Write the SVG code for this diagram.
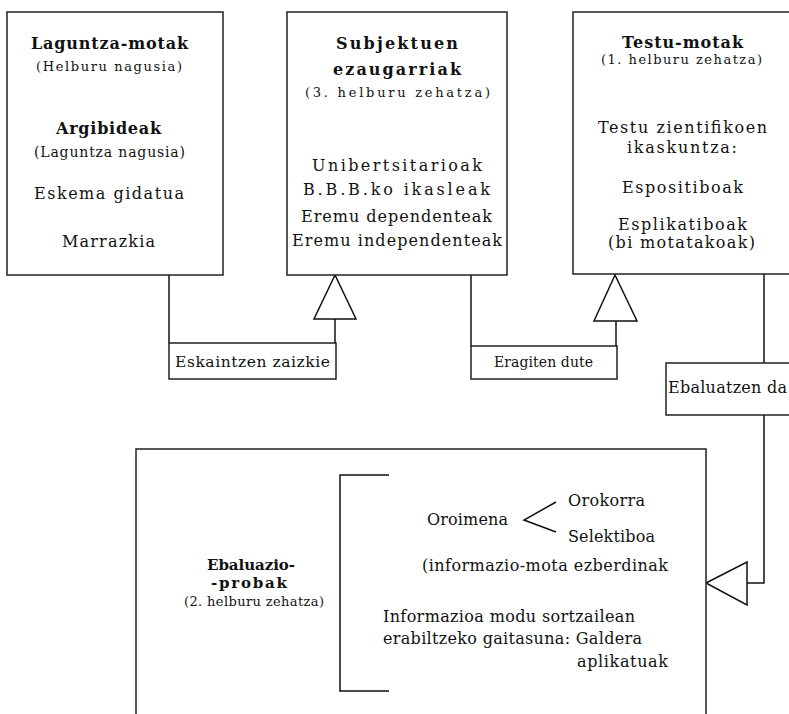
<svg xmlns="http://www.w3.org/2000/svg" width="789" height="714" viewBox="0 0 789 714">
<style>
.box{fill:#fff;stroke:#222;stroke-width:1.5}
.ln{fill:none;stroke:#111;stroke-width:1.5}
.tri{fill:#fff;stroke:#111;stroke-width:1.5;stroke-linejoin:miter}
text{font-family:"DejaVu Serif","Liberation Serif",serif;fill:#111}
.h{font-weight:bold;font-size:16px}
.s{font-size:13px}
.b{font-size:16px}
.c{font-size:15.5px}
</style>
<rect width="789" height="714" fill="#fff"/>
<g id="connectors">
  <polyline class="ln" points="169,275 169,343"/>
  <rect class="box" x="169" y="343" width="167" height="36"/>
  <polyline class="ln" points="335,343 335,319"/>
  <polygon class="tri" points="335,275 314,319 356,319"/>
  <text class="c" x="175" y="367" textLength="155">Eskaintzen zaizkie</text>
  <polyline class="ln" points="471,275 471,346"/>
  <rect class="box" x="471" y="346" width="146" height="33"/>
  <polyline class="ln" points="616,346 616,321"/>
  <polygon class="tri" points="615,275 594,321 637,321"/>
  <text x="494" y="367" font-size="14" textLength="99">Eragiten dute</text>
  <polyline class="ln" points="764,274 764,363"/>
  <rect class="box" x="666" y="363" width="140" height="52"/>
  <text class="b" x="668" y="393" textLength="119">Ebaluatzen da</text>
  <polyline class="ln" points="764,415 764,583 747,583"/>
  <polygon class="tri" points="706,583 747,562 747,605"/>
</g>
<g id="laguntza-motak">
  <rect class="box" x="7" y="12" width="216" height="263"/>
  <text class="h" x="31" y="49" textLength="157">Laguntza-motak</text>
  <text class="s" x="36" y="71" textLength="146">(Helburu nagusia)</text>
  <text class="h" x="56" y="134" textLength="105">Argibideak</text>
  <text x="34" y="157" font-size="14" textLength="151">(Laguntza nagusia)</text>
  <text class="b" x="34" y="199" textLength="150">Eskema gidatua</text>
  <text class="b" x="62" y="247" textLength="93">Marrazkia</text>
</g>
<g id="subjektuen-ezaugarriak">
  <rect class="box" x="287" y="12" width="220" height="263"/>
  <text class="h" x="336" y="49" textLength="122">Subjektuen</text>
  <text class="h" x="333" y="75" textLength="128">ezaugarriak</text>
  <text class="s" x="305" y="97" textLength="185">(3. helburu zehatza)</text>
  <text class="b" x="312" y="171" textLength="170">Unibertsitarioak</text>
  <text class="b" x="303" y="195" textLength="187">B.B.B.ko ikasleak</text>
  <text class="b" x="301" y="222" textLength="191">Eremu dependenteak</text>
  <text class="b" x="292" y="246" textLength="210">Eremu independenteak</text>
</g>
<g id="testu-motak">
  <rect class="box" x="573" y="12" width="230" height="262"/>
  <text class="h" x="622" y="48" textLength="121">Testu-motak</text>
  <text class="s" x="601" y="64" textLength="161">(1. helburu zehatza)</text>
  <text class="b" x="598" y="133" textLength="169">Testu zientifikoen</text>
  <text class="b" x="627" y="153" textLength="110">ikaskuntza:</text>
  <text class="b" x="622" y="193" textLength="121">Espositiboak</text>
  <text class="b" x="618" y="230" textLength="129">Esplikatiboak</text>
  <text class="b" x="608" y="248" textLength="147">(bi motatakoak)</text>
</g>
<g id="ebaluazio-probak">
  <rect class="box" x="136" y="449" width="570" height="280"/>
  <polyline class="ln" points="389,475 340,475 340,691 389,691"/>
  <polyline class="ln" points="556,502 524,520 556,532"/>
  <text x="207" y="570" font-size="15" font-weight="bold" textLength="88">Ebaluazio-</text>
  <text x="211" y="588" font-size="15" font-weight="bold" textLength="76">-probak</text>
  <text class="s" x="184" y="606" textLength="140">(2. helburu zehatza)</text>
  <text class="b" x="427" y="525" textLength="81">Oroimena</text>
  <text class="b" x="568" y="506" textLength="77">Orokorra</text>
  <text class="b" x="568" y="542" textLength="87">Selektiboa</text>
  <text class="b" x="422" y="571" textLength="246">(informazio-mota ezberdinak</text>
  <text class="b" x="383" y="622" textLength="252">Informazioa modu sortzailean</text>
  <text class="b" x="383" y="644" textLength="259">erabiltzeko gaitasuna: Galdera</text>
  <text class="b" x="577" y="667" textLength="91">aplikatuak</text>
</g>
</svg>
